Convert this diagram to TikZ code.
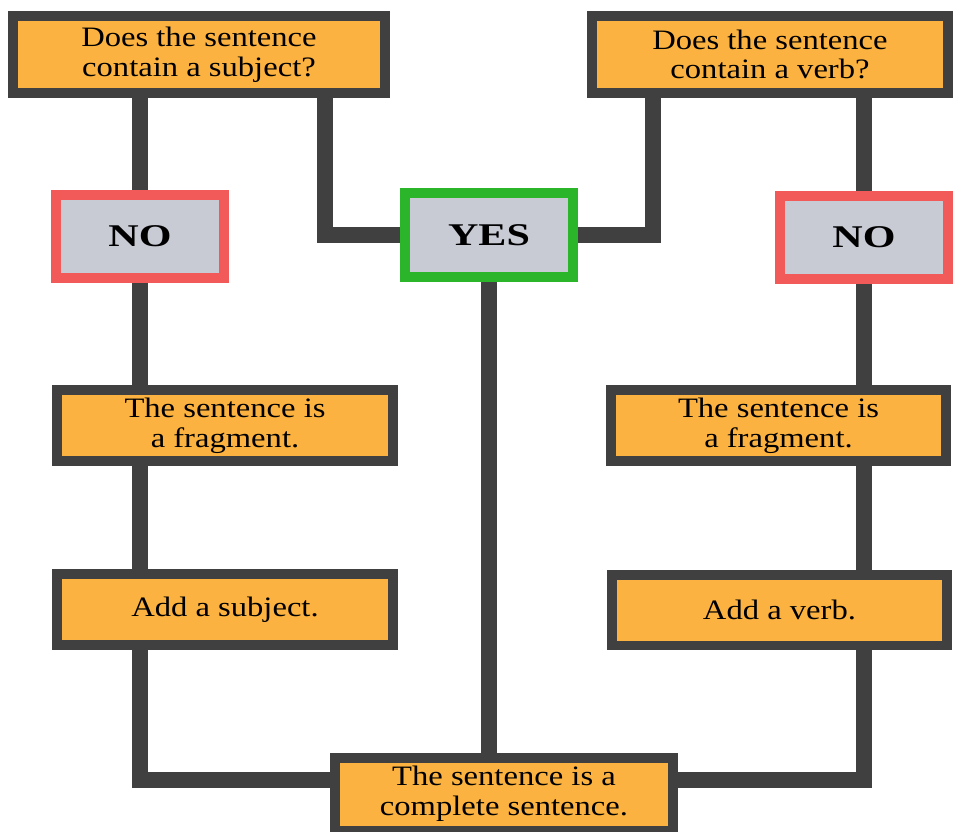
\documentclass[tikz,border=0pt]{standalone}
\usepackage{fontspec}
\setmainfont{Liberation Serif}[FakeStretch=1.16]
\newfontfamily\ansfont{Liberation Serif}[FakeStretch=1.33]
\usepackage{tikz}

\definecolor{boxorange}{RGB}{251,178,64}
\definecolor{boxgray}{RGB}{200,202,212}
\definecolor{linegray}{RGB}{64,64,64}
\definecolor{nored}{RGB}{242,90,90}
\definecolor{yesgreen}{RGB}{43,181,43}

\begin{document}
\begin{tikzpicture}[x=0.02cm, y=-0.02cm,
  every node/.style={inner sep=0pt, align=center},
  txtbox/.style={draw=linegray, line width=0.2cm, fill=boxorange,
    minimum width=6.72cm, minimum height=1.42cm,
    font=\fontsize{16}{17}\selectfont},
  askbox/.style={txtbox, minimum width=7.44cm, minimum height=1.54cm},
  ansbox/.style={line width=0.2cm, fill=boxgray, minimum width=3.36cm,
    minimum height=1.68cm, font=\ansfont\fontsize{18}{20}\selectfont\bfseries},
  link/.style={draw=linegray, line width=0.32cm}]
\useasboundingbox[fill=white] (0,0) rectangle (954,832);

\node[askbox] (subj) at (199,54.5) {Does the sentence\\contain a subject?};
\node[askbox, minimum width=7.12cm] (verb) at (770,54.5) {Does the sentence\\contain a verb?};

\node[ansbox, draw=nored] (noL) at (140,236.5) {NO};
\node[ansbox, draw=yesgreen] (yes) at (489,235) {YES};
\node[ansbox, draw=nored] (noR) at (864,237.5) {NO};

\node[txtbox] (fragL) at (225,425.5) {The sentence is\\a fragment.};
\node[txtbox] (fragR) at (778.5,425.5) {The sentence is\\a fragment.};
\node[txtbox] (addL) at (225,609.5) {Add a subject.};
\node[txtbox] (addR) at (779.5,610) {Add a verb.};
\node[txtbox, minimum width=6.76cm, minimum height=1.46cm] (done) at (504,794) {The sentence is a\\complete sentence.};

% left branch
\draw[link] (noL.north) -- (noL.north |- subj.south);
\draw[link] (noL.south) -- (noL.south |- fragL.north);
\draw[link] (fragL.south -| noL) -- (addL.north -| noL);
\draw[link] (addL.south -| noL) |- ([yshift=0.28cm]done.west);

% yes branch
\draw[link] (yes.west) -| ([xshift=-1.3cm]subj.south east);
\draw[link] (yes.east) -| ([xshift=1.32cm]verb.south west);
\draw[link] (yes.south) -- (yes.south |- done.north);

% right branch
\draw[link] (noR.north) -- (noR.north |- verb.south);
\draw[link] (noR.south) -- (noR.south |- fragR.north);
\draw[link] (fragR.south -| noR) -- (addR.north -| noR);
\draw[link] (addR.south -| noR) |- ([yshift=0.28cm]done.east);
\end{tikzpicture}
\end{document}
